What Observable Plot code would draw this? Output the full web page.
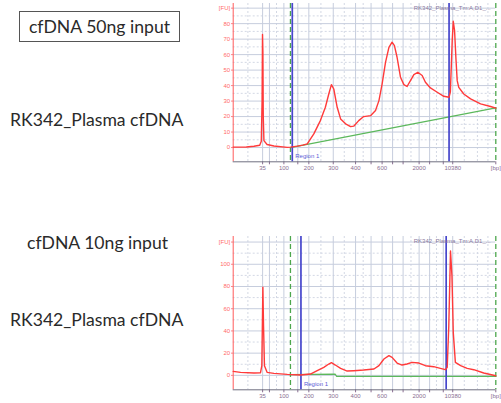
<!DOCTYPE html>
<html><head><meta charset="utf-8">
<script src="https://cdn.jsdelivr.net/npm/d3@7"></script>
<script src="https://cdn.jsdelivr.net/npm/@observablehq/plot@0.6"></script>
<style>
body{margin:0;background:#fff;}
#page{position:relative;width:501px;height:403px;overflow:hidden;font-family:Lato,"Open Sans",sans-serif;color:#2a2a2a;}
.lbl{position:absolute;font-size:17.6px;white-space:nowrap;line-height:1;}
.box{position:absolute;border:1.3px solid #555;box-sizing:border-box;display:flex;align-items:center;justify-content:center;font-size:17.6px;white-space:nowrap;}
.chart{position:absolute;left:220px;}
</style></head><body><div id="page">
<div class="box" style="left:19px;top:11px;width:161px;height:31px;">cfDNA 50ng input</div>
<div class="lbl" style="left:10px;top:111px;">RK342_Plasma cfDNA</div>
<div class="lbl" style="left:27px;top:234px;">cfDNA 10ng input</div>
<div class="lbl" style="left:10px;top:311px;">RK342_Plasma cfDNA</div>
<div class="chart" id="c1" style="top:0px;"></div>
<div class="chart" id="c2" style="top:225px;"></div>
</div>
<script>
// Ladder sizes (bp) and their migration positions (time units)
const ladderBp = [35, 50, 100, 150, 200, 300, 400, 500, 600, 700, 1000, 2000, 3000, 7000, 10380];
const ladderTime = [11.2, 13.8, 19.3, 24.6, 28.8, 38.1, 46.6, 52.5, 56.7, 60.7, 64.7, 70.8, 74.8, 80.0, 83.6];
const ladderLabels = ["35", "", "100", "", "200", "300", "400", "", "600", "", "", "2000", "", "", "10380"];
const sampleName = "RK342_Plasma_Tm:A,D1_...";

// 50 ng input electropherogram
const time50 = [0, 5, 7.9, 10.1, 10.7, 11.0, 11.16, 11.3, 11.45, 11.7, 12.9, 15.5, 20.6, 21.8, 24.4, 26.5, 28.2, 30.7, 33.2, 35.1, 36.4, 37.4, 38.3, 39.6, 40.9, 42.8, 44.7, 45.9, 47.8, 49.7, 52.3, 54.2, 55.5, 56.7, 58.0, 59.3, 60.5, 61.4, 62.4, 63.7, 65.0, 66.2, 67.5, 68.8, 70.3, 71.96, 73.2, 75.1, 77.7, 80.2, 82.2, 82.7, 83.4, 83.8, 84.3, 84.8, 85.3, 85.9, 87.8, 90.4, 94.2, 98.0, 100];
const fu50 = [0.3, 0.4, 0.8, 1.5, 4, 30, 73, 62, 20, 4.5, 2, 1, 0.1, 0.3, 0.9, 1.6, 2.4, 8.8, 17.4, 26, 34.6, 40.6, 37.8, 26, 18.5, 15.3, 13.5, 13.8, 17.4, 20, 20.6, 23.9, 30.3, 41, 55, 64.7, 68, 65.8, 58.3, 45.4, 40.6, 39.4, 43.2, 47.1, 48.6, 46.5, 42.2, 38.5, 35.7, 33.1, 32.5, 36, 69, 81.5, 75.5, 58, 43.2, 38.9, 34.6, 31.4, 28.2, 26.5, 25.4];
const baseTime50 = [21.8, 100];
const baseFu50 = [0, 25.6];
const region50 = [22.5, 82.2];
const window50 = [21.8, 100];

// 10 ng input electropherogram
const time10 = [0, 2.8, 7.9, 10.4, 10.9, 11.3, 11.55, 11.9, 12.9, 15.5, 20.6, 25.6, 29.4, 32.0, 34.5, 36.4, 37.4, 38.9, 40.9, 43.4, 45.9, 49.7, 53.6, 55.5, 57.4, 59.3, 60.5, 62.4, 64.3, 66.2, 68.1, 70.7, 73.2, 76.4, 78.9, 80.8, 81.5, 82.1, 82.75, 83.3, 83.8, 84.6, 86.6, 89.1, 91.6, 95.4, 100];
const fu10 = [3.6, 2.7, 2.1, 2.4, 8.7, 79.3, 44.7, 8.7, 2.7, 1.8, 0.9, 0.3, 1.2, 4.2, 7.2, 10.2, 11.4, 9.3, 6.3, 3.9, 4.2, 4.8, 5.7, 8.7, 14.7, 17.7, 16.2, 11.1, 9.3, 10.2, 11.7, 11.1, 8.7, 7.8, 6.3, 5.1, 7.2, 44.7, 112, 89.8, 38.7, 11.7, 8.7, 6.3, 5.1, 2.1, -0.3];
const baseTime10 = [21.8, 38.8, 39.4, 100];
const baseFu10 = [0.6, 1.2, -0.9, -0.9];
const region10 = [25.8, 81.1];
const window10 = [21.8, 100];

const minorX = [5.6, 16.5, 33.4, 42.3, 49.5, 67.7, 77.4, 88, 93, 97];

function panel({time, fu, baseT, baseF, region, win, yDomain, yTicks, yMinor, fuTick, height, marginTop}) {
  const trace = time.map((t, i) => ({t, v: fu[i]}));
  const base = baseT.map((t, i) => ({t, v: baseF[i]}));
  const xTicks = [...ladderTime, 100];
  const xLab = new Map(ladderTime.map((t, i) => [t, ladderLabels[i]]));
  xLab.set(100, "[bp]");
  return Plot.plot({
    width: 281, height, marginLeft: 12.7, marginRight: 5.7, marginTop, marginBottom: 13.7,
    x: {domain: [0, 100]},
    y: {domain: yDomain},
    style: {background: "transparent", fontSize: "6px", fontFamily: "Liberation Sans, sans-serif", overflow: "visible"},
    marks: [
      Plot.ruleY(yMinor, {stroke: "#d3d8e4", strokeDasharray: "2,2"}),
      Plot.ruleX(minorX, {stroke: "#d3d8e4", strokeDasharray: "2,2"}),
      Plot.ruleY(yTicks, {stroke: "#c6cddd"}),
      Plot.ruleX(ladderTime, {stroke: "#c6cddd"}),
      Plot.axisY({ticks: yTicks, tickFormat: d => d === fuTick ? "[FU]" : String(d), tickSize: 1.5, tickPadding: 1.5, color: "#ff6a6a", label: null}),
      Plot.axisX({ticks: xTicks, tickFormat: d => xLab.get(d), tickSize: 3, tickPadding: 1, color: "#8a6e92", label: null}),
      Plot.ruleX([0], {stroke: "#ff5a5a", strokeWidth: 1}),
      Plot.ruleY([yDomain[0]], {stroke: "#707080", strokeWidth: 1}),
      Plot.line(base, {x: "t", y: "v", stroke: "#5cb85c", strokeWidth: 1.2}),
      Plot.ruleX(win, {stroke: "#4ca64c", strokeDasharray: "5,3", strokeWidth: 1.3}),
      Plot.ruleX(region, {stroke: "#4646cc", strokeWidth: 1.7}),
      Plot.line(trace, {x: "t", y: "v", stroke: "#ff3a3a", strokeWidth: 1.4}),
      Plot.text([{t: region[0], label: "Region 1"}], {x: "t", text: "label", frameAnchor: "bottom", textAnchor: "start", dx: 3, dy: -4, fill: "#5b5bd6", fontSize: 6}),
      Plot.text([sampleName], {frameAnchor: "top-right", textAnchor: "end", dx: -5, dy: 2, fill: "#8a7aa0", fontSize: 6})
    ]
  });
}

document.getElementById("c1").append(panel({
  time: time50, fu: fu50, baseT: baseTime50, baseF: baseFu50, region: region50, win: window50,
  yDomain: [-9.2, 93], yTicks: [0, 10, 20, 30, 40, 50, 60, 70, 80, 90], yMinor: [5, 15, 25, 35, 45, 55, 65, 75, 85],
  fuTick: 90, height: 175, marginTop: 3
}));
document.getElementById("c2").append(panel({
  time: time10, fu: fu10, baseT: baseTime10, baseF: baseFu10, region: region10, win: window10,
  yDomain: [-13, 125], yTicks: [0, 20, 40, 60, 80, 100, 120], yMinor: [10, 30, 50, 70, 90, 110],
  fuTick: 120, height: 178, marginTop: 11
}));
</script>
</body></html>
